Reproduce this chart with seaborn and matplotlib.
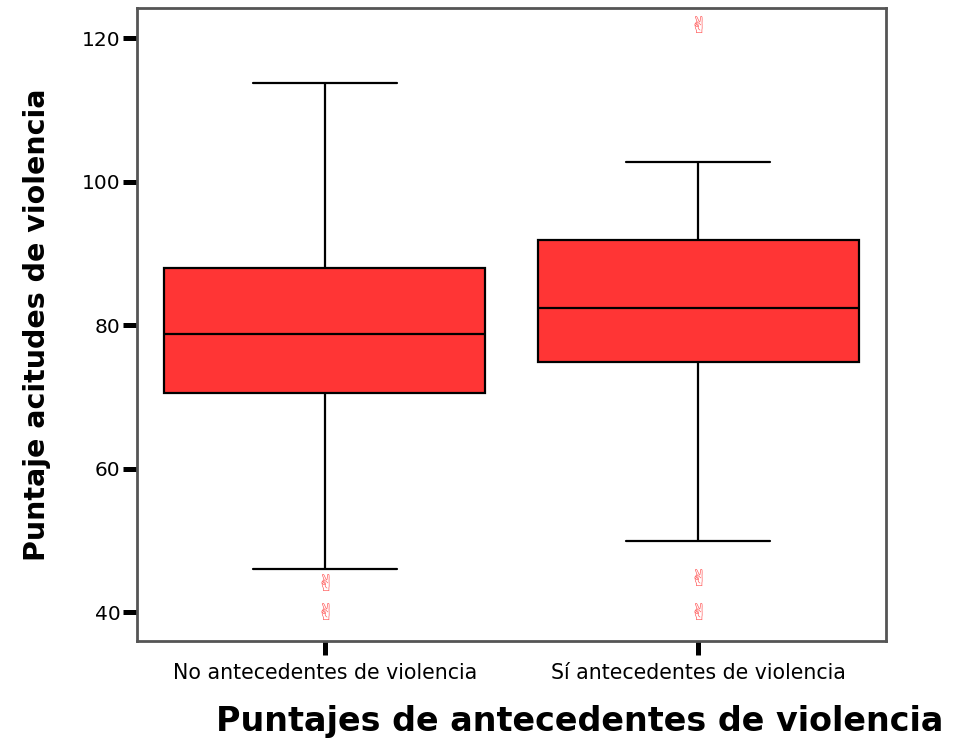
import matplotlib
matplotlib.use("Agg")
import matplotlib.pyplot as plt
import seaborn as sns
import pandas as pd
import numpy as np

categories = ["No antecedentes de violencia", "Sí antecedentes de violencia"]
whisker_low = [46.0, 49.9]
q1 = [70.5, 74.8]
median = [78.7, 82.4]
q3 = [87.9, 91.8]
whisker_high = [113.7, 102.7]
outlier_cat = ["No antecedentes de violencia", "No antecedentes de violencia",
               "Sí antecedentes de violencia", "Sí antecedentes de violencia",
               "Sí antecedentes de violencia"]
outlier_val = [44.2, 40.1, 44.9, 40.1, 121.9]
yticks = [40, 60, 80, 100, 120]

# Build rows reproducing each five-number summary exactly (percentiles with linear interpolation)
rows = []
for i, c in enumerate(categories):
    for v in [whisker_low[i], q1[i], q1[i], median[i], q3[i], q3[i], whisker_high[i]]:
        rows.append({"grupo": c, "puntaje": v})
df = pd.DataFrame(rows)
df_out = pd.DataFrame({"grupo": outlier_cat, "puntaje": outlier_val})

sns.set_style("white")
plt.rcParams["font.family"] = ["DejaVu Sans"]
plt.rcParams["text.color"] = "black"
plt.rcParams["xtick.color"] = "black"
plt.rcParams["ytick.color"] = "black"

fig = plt.figure(figsize=(9.57, 7.42), dpi=100)
ax = fig.add_axes([137/957, 1-641/742, (886-137)/957, (641-8)/742])

sns.boxplot(data=df, x="grupo", y="puntaje", order=categories, ax=ax,
            whis=(0, 100), showfliers=False, width=0.86, color="#FF3535",
            saturation=1, linecolor="black", linewidth=1.6, capwidths=0.385,
            boxprops=dict(facecolor="#FF3535", edgecolor="black"))

sns.scatterplot(data=df_out, x="grupo", y="puntaje", ax=ax, marker="$\u270C$",
                s=150, color="#FF5A5A", linewidth=0, legend=False, zorder=5)

ax.set_xlim(-0.503, 1.503)
ax.set_ylim(35.96, 124.2)
ax.set_yticks(yticks)
ax.set_yticklabels([str(t) for t in yticks], fontsize=14.5, color="black")
ax.set_xticks([0, 1])
ax.set_xticklabels(categories, fontsize=14.8, color="black")
ax.tick_params(axis="both", which="both", direction="out", length=10, width=3.6,
               color="black", left=True, bottom=True)
ax.tick_params(axis="y", pad=2)
ax.tick_params(axis="x", pad=6)
ax.set_xlabel("")
ax.set_ylabel("")
for s in ax.spines.values():
    s.set_color("#555555")
    s.set_linewidth(2)

fig.text(37/957, 1-325/742, "Puntaje acitudes de violencia", rotation=90,
         ha="center", va="center", fontsize=20.5, fontweight="bold", color="black")
fig.text(580/957, 1-722/742, "Puntajes de antecedentes de violencia",
         ha="center", va="center", fontsize=24, fontweight="bold", color="black")

fig.savefig("out.png", dpi=100)
